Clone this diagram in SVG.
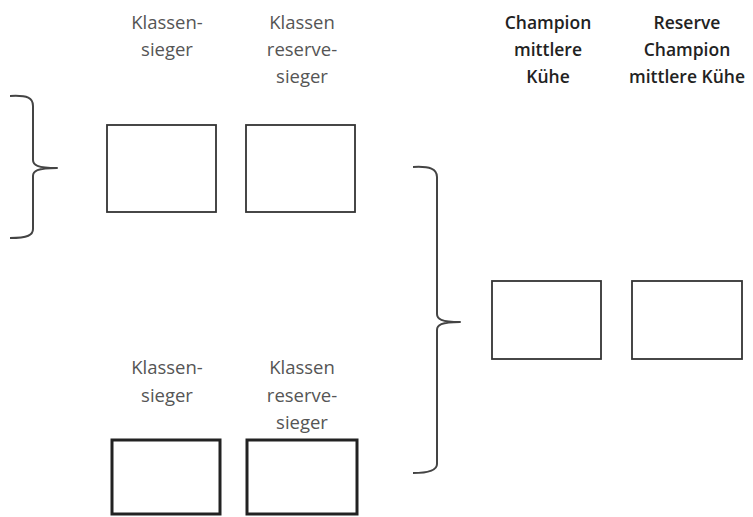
<svg xmlns="http://www.w3.org/2000/svg" width="753" height="517" viewBox="0 0 753 517">
<style>
.lbl{font-family:"Open Sans","Liberation Sans",sans-serif;font-size:18.5px;fill:#555;text-anchor:middle}
.bold{font-family:"Open Sans","Liberation Sans",sans-serif;font-size:17.5px;font-weight:600;fill:#222;text-anchor:middle}
.box{fill:#fff;stroke:#333;stroke-width:1.8}
.thick{fill:#fff;stroke:#222;stroke-width:3}
.brace{fill:none;stroke:#444;stroke-width:2;stroke-linejoin:round}
</style>
<rect width="753" height="517" fill="#fff"/>
<g id="connectors">
<path class="brace" d="M10,96 C28,95 33,98 33,106 L33,160 C33,165 37,168 57,168 C37,168 33,171 33,176 L33,229 C33,235 28,238 10,238"/>
<path class="brace" d="M413,167 C430,166 437,169 437,177 L437,314 C437,319 441,322 460,322 C441,322 437,325 437,330 L437,464 C437,470 430,473 413,473"/>
</g>
<g id="top-sieger">
<text class="lbl" x="167" y="29">Klassen-</text>
<text class="lbl" x="167" y="56">sieger</text>
<rect class="box" x="107" y="125" width="109" height="87"/>
</g>
<g id="top-reserve">
<text class="lbl" x="302" y="29">Klassen</text>
<text class="lbl" x="302" y="56">reserve-</text>
<text class="lbl" x="302" y="83">sieger</text>
<rect class="box" x="246" y="125" width="109" height="87"/>
</g>
<g id="bottom-sieger">
<text class="lbl" x="167" y="374">Klassen-</text>
<text class="lbl" x="167" y="402">sieger</text>
<rect class="thick" x="112" y="440" width="108" height="74"/>
</g>
<g id="bottom-reserve">
<text class="lbl" x="302" y="374">Klassen</text>
<text class="lbl" x="302" y="402">reserve-</text>
<text class="lbl" x="302" y="429">sieger</text>
<rect class="thick" x="247" y="440" width="110" height="74"/>
</g>
<g id="champion">
<text class="bold" x="548" y="29">Champion</text>
<text class="bold" x="548" y="56">mittlere</text>
<text class="bold" x="548" y="83">Kühe</text>
<rect class="box" x="492" y="281" width="109" height="78"/>
</g>
<g id="reserve-champion">
<text class="bold" x="687" y="29">Reserve</text>
<text class="bold" x="687" y="56">Champion</text>
<text class="bold" x="687" y="83">mittlere Kühe</text>
<rect class="box" x="632" y="281" width="110" height="78"/>
</g>
</svg>
